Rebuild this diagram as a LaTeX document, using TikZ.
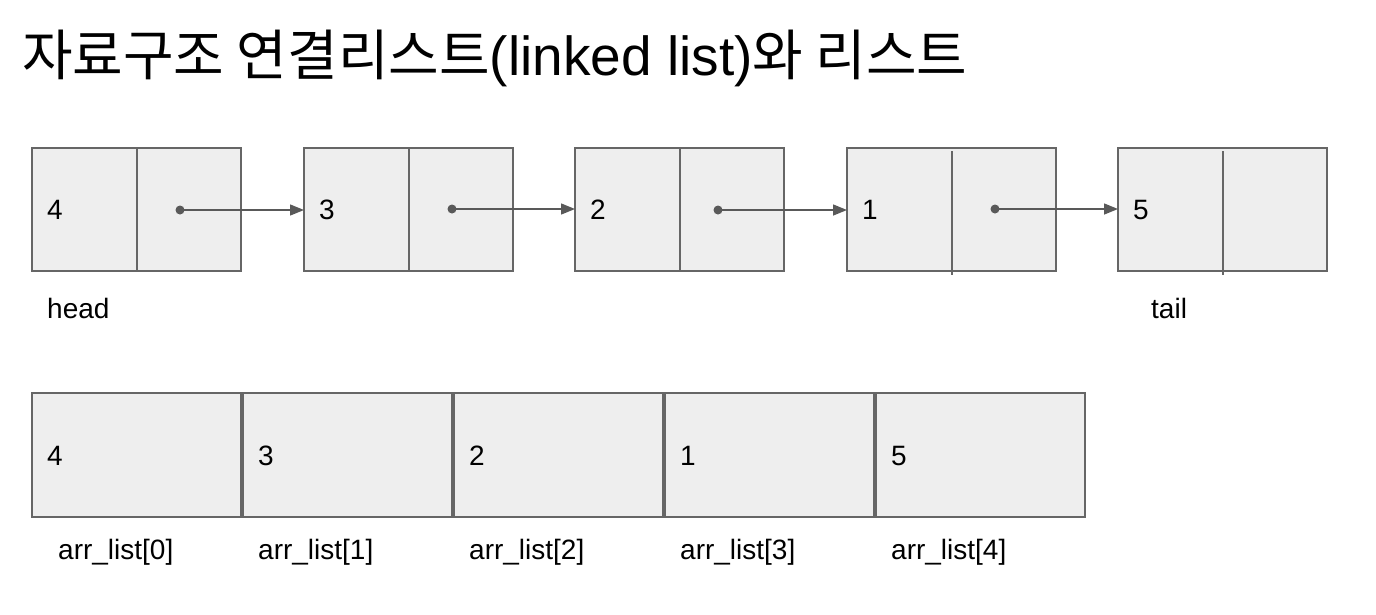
\documentclass[tikz,border=0pt]{standalone}
\usepackage{fontspec}
\setmainfont{Liberation Sans}
\newfontfamily\krfont{Noto Sans CJK KR}
\usetikzlibrary{arrows.meta,positioning}
\definecolor{cellfill}{HTML}{EEEEEE}
\definecolor{cellline}{HTML}{666666}
\definecolor{linkgray}{HTML}{595959}

\tikzset{
  cell/.style={draw=cellline, fill=cellfill, line width=1.4pt, minimum width=209pt, minimum height=123pt,
    outer sep=0pt, inner xsep=15pt, inner ysep=0pt, text width=179pt, text height=20pt, text depth=0pt,
    align=left, font=\fontsize{28}{32}\selectfont},
  divider/.style={draw=cellline, line width=1.4pt},
  link/.style={draw=linkgray, line width=1.4pt, -{Triangle[length=14pt,width=11pt]}},
  caption/.style={anchor=west, inner sep=0pt, font=\fontsize{28}{32}\selectfont},
}

\begin{document}
\begin{tikzpicture}[x=1pt,y=-1pt]
    \fill[white] (0,0) rectangle (1376,614);
    \useasboundingbox (0,0) rectangle (1376,614);

    \node[anchor=west, inner sep=0pt, font=\fontsize{55}{60}\selectfont] (title) at (22,58)
        {{\krfont 자료구조 연결리스트}(linked list){\krfont 와 리스트}};

    % linked list
    \node[cell] (n1) at (136.5,209.5) {4};
    \node[cell, right=63pt of n1] (n2) {3};
    \node[cell, right=62pt of n2] (n3) {2};
    \node[cell, right=63pt of n3] (n4) {1};
    \node[cell, right=62pt of n4] (n5) {5};

    \draw[divider] ([xshift=105pt]n1.north west) -- ([xshift=105pt]n1.south west);
    \draw[divider] ([xshift=105pt]n2.north west) -- ([xshift=105pt]n2.south west);
    \draw[divider] ([xshift=105pt]n3.north west) -- ([xshift=105pt]n3.south west);
    \draw[divider] ([xshift=105pt,yshift=-3pt]n4.north west) -- ([xshift=105pt,yshift=-4pt]n4.south west);
    \draw[divider] ([xshift=105pt,yshift=-3pt]n5.north west) -- ([xshift=105pt,yshift=-4pt]n5.south west);

    \coordinate (p1) at (180,210);
    \coordinate (p2) at (452,209);
    \coordinate (p3) at (718,210);
    \coordinate (p4) at (995,209);
    \fill[linkgray] (p1) circle (4.5pt); \draw[link] (p1) -- (p1 -| n2.west);
    \fill[linkgray] (p2) circle (4.5pt); \draw[link] (p2) -- (p2 -| n3.west);
    \fill[linkgray] (p3) circle (4.5pt); \draw[link] (p3) -- (p3 -| n4.west);
    \fill[linkgray] (p4) circle (4.5pt); \draw[link] (p4) -- (p4 -| n5.west);

    \node[caption] (head) at (47,308) {head};
    \node[caption] (tail) at (1151,308) {tail};

    % array list
    \node[cell, minimum height=124pt] (a0) at (136.5,455) {4};
    \node[cell, minimum height=124pt, right=2pt of a0] (a1) {3};
    \node[cell, minimum height=124pt, right=2pt of a1] (a2) {2};
    \node[cell, minimum height=124pt, right=2pt of a2] (a3) {1};
    \node[cell, minimum height=124pt, right=2pt of a3] (a4) {5};

    \node[caption] (i0) at (58,552) {arr\_list[0]};
    \node[caption] (i1) at (258,552) {arr\_list[1]};
    \node[caption] (i2) at (469,552) {arr\_list[2]};
    \node[caption] (i3) at (680,552) {arr\_list[3]};
    \node[caption] (i4) at (891,552) {arr\_list[4]};
\end{tikzpicture}
\end{document}
